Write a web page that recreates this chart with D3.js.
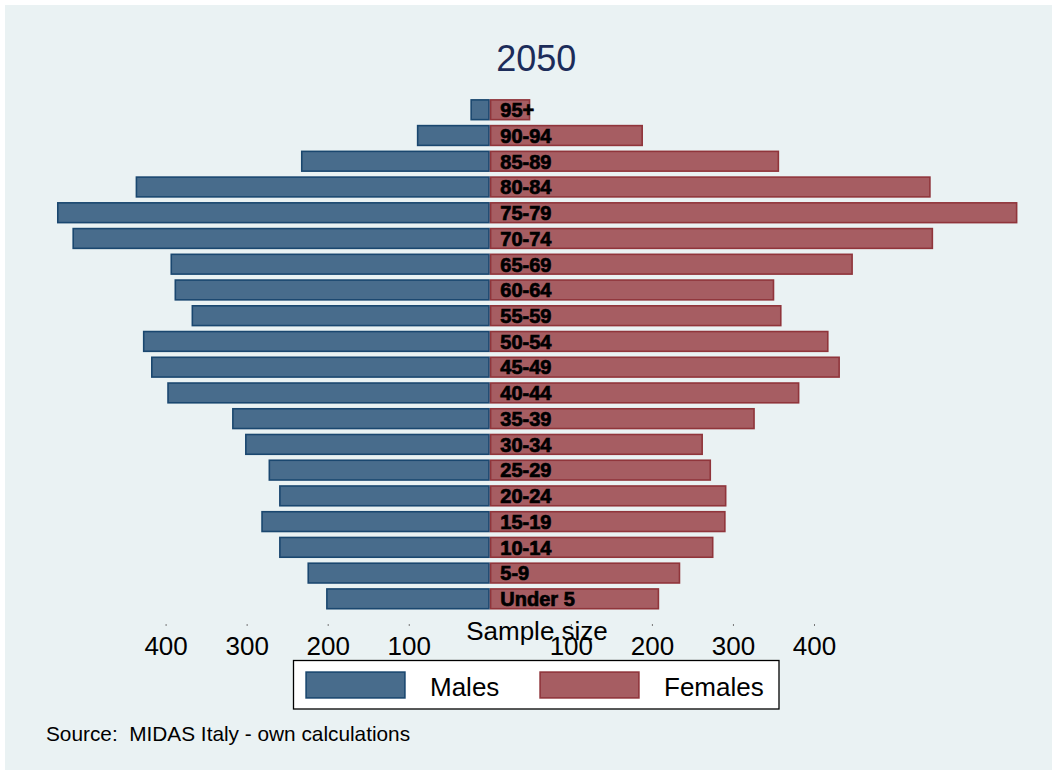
<!DOCTYPE html>
<html>
<head>
<meta charset="utf-8">
<script src="https://cdn.jsdelivr.net/npm/d3@7/dist/d3.min.js"></script>
<style>
  html, body { margin: 0; padding: 0; background: #ffffff; }
  svg { display: block; font-family: "Liberation Sans", Arial, sans-serif; }
</style>
</head>
<body>
<svg id="chart" width="1052" height="770"></svg>
<script>
// ---- Data (top to bottom) ----
const ageGroups = ["95+", "90-94", "85-89", "80-84", "75-79", "70-74", "65-69", "60-64", "55-59", "50-54",
                   "45-49", "40-44", "35-39", "30-34", "25-29", "20-24", "15-19", "10-14", "5-9", "Under 5"];
const males   = [24, 90, 233, 437, 534, 515, 394, 389, 368, 428, 418, 398, 318, 302, 273, 260, 282, 260, 225, 202];
const females = [50, 189, 357, 544, 651, 547, 448, 351, 360, 418, 432, 382, 327, 263, 273, 292, 291, 276, 235, 209];
const tickValues = [-400, -300, -200, -100, 100, 200, 300, 400];
const seriesNames = ["Males", "Females"];
const titleText = "2050";
const axisTitle = "Sample size";
const sourceText = "Source:  MIDAS Italy - own calculations";

// ---- Layout ----
const W = 1052, H = 770;
const center = 489.8, pxPer400 = 324.2;
const svg = d3.select("#chart");

svg.append("rect").attr("x", 0).attr("y", 0).attr("width", W).attr("height", H).attr("fill", "#ffffff");
svg.append("rect").attr("x", 5).attr("y", 5).attr("width", W - 5).attr("height", H - 5).attr("fill", "#eaf2f3");

const x = d3.scaleLinear().domain([-400, 400]).range([center - pxPer400, center + pxPer400]);
const y = d3.scaleBand().domain(ageGroups).range([96.9, 611.7]).paddingInner(0.17).paddingOuter(0.085);

const colors = {
  Males:   { fill: "rgb(72,108,140)", stroke: "rgb(26,71,111)" },
  Females: { fill: "rgb(166,93,98)",  stroke: "rgb(144,53,59)" }
};
const sw = 1.6;

// Bars
const rows = ageGroups.map((a, i) => ({ age: a, m: males[i], f: females[i] }));
svg.append("g").selectAll("rect").data(rows).join("rect")
  .attr("x", d => x(-d.m) + sw / 2)
  .attr("y", d => y(d.age) + sw / 2)
  .attr("width", d => x(0) - x(-d.m) - sw)
  .attr("height", y.bandwidth() - sw)
  .attr("fill", colors.Males.fill).attr("stroke", colors.Males.stroke).attr("stroke-width", sw);
svg.append("g").selectAll("rect").data(rows).join("rect")
  .attr("x", x(0) + sw / 2)
  .attr("y", d => y(d.age) + sw / 2)
  .attr("width", d => x(d.f) - x(0) - sw)
  .attr("height", y.bandwidth() - sw)
  .attr("fill", colors.Females.fill).attr("stroke", colors.Females.stroke).attr("stroke-width", sw);

// Age labels
svg.append("g").selectAll("text").data(rows).join("text")
  .attr("x", x(0) + 10.5)
  .attr("y", d => y(d.age) + y.bandwidth() / 2 + 7.3)
  .attr("font-size", 20).attr("font-weight", "bold")
  .attr("fill", "#000").attr("stroke", "#000").attr("stroke-width", 0.7)
  .text(d => d.age);

// Axis
const axis = d3.axisBottom(x).tickValues(tickValues).tickSize(2).tickFormat(d => Math.abs(d));
const gAxis = svg.append("g").attr("transform", "translate(0,624)").call(axis);
gAxis.select(".domain").remove();
gAxis.selectAll(".tick line").attr("stroke", "#777");
gAxis.selectAll(".tick text").attr("y", 31).attr("dy", 0)
  .attr("font-size", 26).attr("fill", "#000")
  .attr("font-family", "\"Liberation Sans\", Arial, sans-serif");

// Axis title
svg.append("text").attr("x", 537).attr("y", 640).attr("text-anchor", "middle")
  .attr("font-size", 26).attr("fill", "#000").text(axisTitle);

// Title
svg.append("text").attr("x", 536.3).attr("y", 70.5).attr("text-anchor", "middle")
  .attr("font-size", 36).attr("fill", "#1c2c5a").text(titleText);

// Legend
svg.append("rect").attr("x", 293.5).attr("y", 660.5).attr("width", 485.5).attr("height", 48.5)
  .attr("fill", "#fff").attr("stroke", "#000").attr("stroke-width", 1.3);
const legX = [305.3, 539.3];
const legTextX = [430, 664];
seriesNames.forEach((s, i) => {
  svg.append("rect").attr("x", legX[i] + sw / 2).attr("y", 671.3 + sw / 2)
    .attr("width", 100.4 - sw).attr("height", 27.4 - sw)
    .attr("fill", colors[s].fill).attr("stroke", colors[s].stroke).attr("stroke-width", sw);
  svg.append("text").attr("x", legTextX[i]).attr("y", 695.7)
    .attr("font-size", 26).attr("fill", "#000").text(s);
});

// Source
svg.append("text").attr("x", 46).attr("y", 741).attr("font-size", 20.8).attr("fill", "#000")
  .style("white-space", "pre").attr("xml:space", "preserve").text(sourceText);
</script>
</body>
</html>
